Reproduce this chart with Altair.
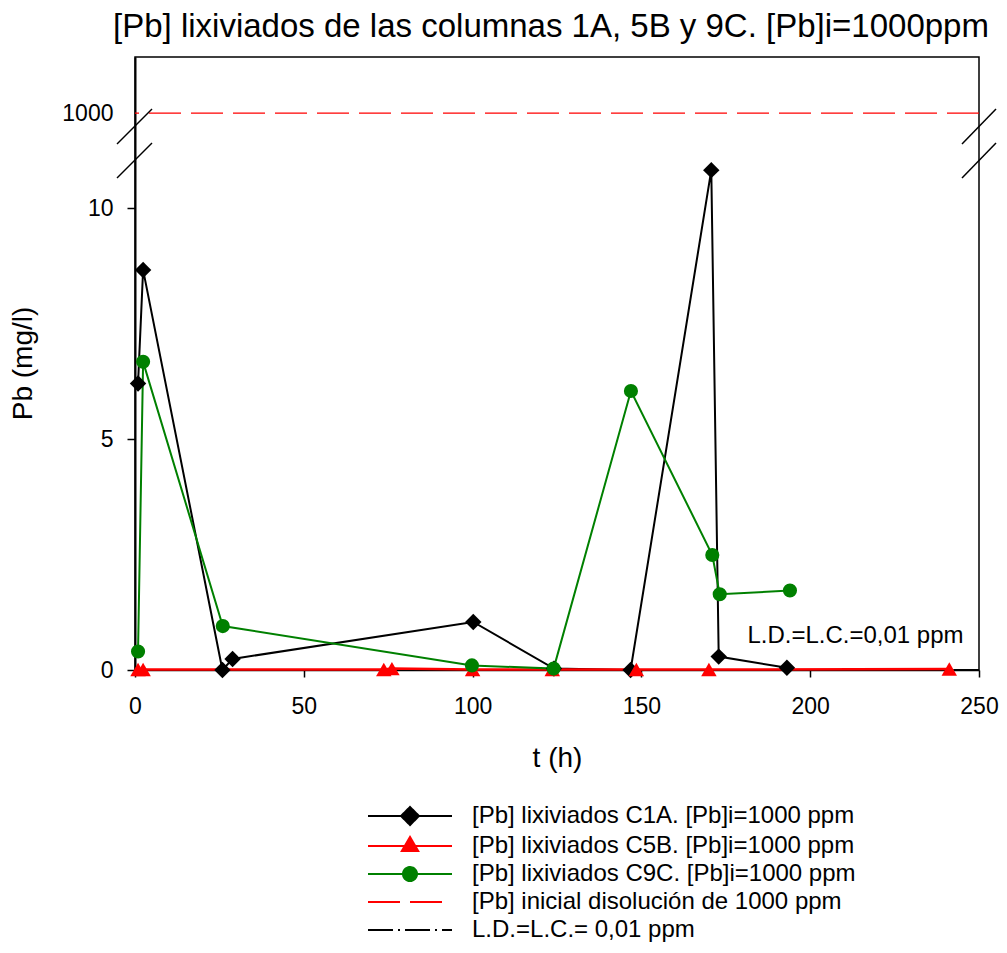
import altair as alt
import pandas as pd

# ---------------- data ----------------
title_text = "[Pb] lixiviados de las columnas 1A, 5B y 9C. [Pb]i=1000ppm"
x_title = "t (h)"
y_title = "Pb (mg/l)"

c1a_t = [0.9, 2.4, 25.9, 28.9, 100.2, 124.1, 146.8, 170.7, 172.9, 193.1]
c1a_v = [6.20, 8.66, 0.00, 0.24, 1.04, 0.03, 0.00, 10.82, 0.29, 0.05]

c5b_t = [0.9, 2.4, 73.7, 76.1, 100.0, 123.6, 148.5, 170.0, 241.2]
c5b_v = [0.01, 0.01, 0.01, 0.03, 0.01, 0.01, 0.01, 0.01, 0.02]

c9c_t = [0.9, 2.4, 26.0, 99.8, 124.0, 146.9, 171.0, 173.2, 194.0]
c9c_v = [0.40, 6.67, 0.95, 0.10, 0.03, 6.04, 2.49, 1.64, 1.72]

series_labels = [
    "[Pb] lixiviados C1A. [Pb]i=1000 ppm",
    "[Pb] lixiviados C5B. [Pb]i=1000 ppm",
    "[Pb] lixiviados C9C. [Pb]i=1000 ppm",
    "[Pb] inicial disolución de 1000 ppm",
    "L.D.=L.C.= 0,01 ppm",
]
series_colors = ["#000000", "#ff0000", "#008000", "#ff0000", "#000000"]

x_ticks = [0, 50, 100, 150, 200, 250]
y_ticks = [0, 5, 10, 1000]
initial_conc = [1000]
ld_lc = [0.01]
annot_text = ["L.D.=L.C.=0,01 ppm"]
annot_x = [181.4]
annot_y = [0.74]

# ---------------- style ----------------
W, H = 844, 613
FONT = "Liberation Sans"
BLACK, RED, GREEN = "#000000", "#ff0000", "#008000"

xscale = alt.Scale(domain=[0, 250], nice=False, zero=False)
# broken axis: piecewise linear scale (lower part 0..11.1, upper part around 1000)
yscale = alt.Scale(domain=[0, 11.1, 999.7, 1001.212],
                   range=[613, 100.2, 69.9, 0], nice=False, zero=False)

xaxis = alt.Axis(values=x_ticks, title=x_title, grid=False,
                 labelFont=FONT, labelFontSize=23, labelColor=BLACK,
                 labelPadding=18, labelFlush=False,
                 tickSize=7, tickWidth=1.5, tickColor=BLACK,
                 domainColor=BLACK, domainWidth=1.5,
                 titleFont=FONT, titleFontSize=28, titleFontWeight="normal",
                 titleColor=BLACK, titleX=422, titleY=96,
                 titleBaseline="alphabetic")
yaxis = alt.Axis(values=y_ticks, format="d", title=y_title, grid=False,
                 labelFont=FONT, labelFontSize=23, labelColor=BLACK,
                 labelPadding=14, labelOverlap=False,
                 tickSize=8, tickWidth=1.5, tickColor=BLACK,
                 tickOpacity={"condition": {"test": "datum.value === 1000", "value": 0}, "value": 1},
                 domainColor=BLACK, domainWidth=2,
                 titleFont=FONT, titleFontSize=28, titleFontWeight="normal",
                 titleColor=BLACK, titleAngle=-90, titleX=-104, titleY=306,
                 titleAlign="center", titleBaseline="alphabetic")


def ex(field):
    return alt.X(field, type="quantitative", scale=xscale, axis=xaxis)


def ey(field):
    return alt.Y(field, type="quantitative", scale=yscale, axis=yaxis)


df1 = pd.DataFrame({"t": c1a_t, "v": c1a_v})
df2 = pd.DataFrame({"t": c5b_t, "v": c5b_v})
df3 = pd.DataFrame({"t": c9c_t, "v": c9c_v})

ld_rule = alt.Chart(pd.DataFrame({"v": ld_lc})).mark_rule(
    color=BLACK, strokeWidth=1, strokeDash=[25, 5, 2, 5]).encode(y=ey("v"))
init_rule = alt.Chart(pd.DataFrame({"v": initial_conc})).mark_rule(
    color=RED, strokeWidth=1.3, strokeDash=[32, 10]).encode(y=ey("v"))

line1 = alt.Chart(df1).mark_line(color=BLACK, strokeWidth=2).encode(x=ex("t"), y=ey("v"))
line2 = alt.Chart(df2).mark_line(color=RED, strokeWidth=2.5).encode(x=ex("t"), y=ey("v"))
line3 = alt.Chart(df3).mark_line(color=GREEN, strokeWidth=2).encode(x=ex("t"), y=ey("v"))

pts1 = alt.Chart(df1).mark_point(shape="diamond", filled=True, size=270, color=BLACK, opacity=1).encode(x=ex("t"), y=ey("v"))
pts2 = alt.Chart(df2).mark_point(shape="triangle-up", filled=True, size=240, color=RED, opacity=1).encode(x=ex("t"), y=ey("v"))
pts3 = alt.Chart(df3).mark_point(shape="circle", filled=True, size=200, color=GREEN, opacity=1).encode(x=ex("t"), y=ey("v"))

annot = alt.Chart(pd.DataFrame({"t": annot_x, "v": annot_y, "s": annot_text})).mark_text(
    align="left", baseline="middle", font=FONT, fontSize=24, color=BLACK
).encode(x=ex("t"), y=ey("v"), text="s:N")

# axis-break slashes (decoration, pixel offsets)
one = pd.DataFrame({"k": [0]})
slashes = []
for x0, x1 in [(-18, 17), (W - 17, W + 17)]:
    for y0, y1 in [(87, 52), (121, 86)]:
        slashes.append(alt.Chart(one).mark_rule(color=BLACK, strokeWidth=1.5).encode(
            x=alt.value(x0), x2=alt.value(x1), y=alt.value(y0), y2=alt.value(y1)))

# legend built from scales (no data drawn)
legend_paths = [
    "M-4.2,0H4.2M0,-0.9L0.9,0L0,0.9L-0.9,0Z",
    "M-4.2,0H4.2M0,-0.9L0.82,0.5L-0.82,0.5Z",
    "M-4.2,0H4.2M0.7,0A0.7,0.7,0,1,1,-0.7,0A0.7,0.7,0,1,1,0.7,0Z",
    "M-4.2,0H4.2",
    "M-4.2,0H4.2",
]
legend_dashes = [[1, 0], [1, 0], [1, 0], [32, 10], [25, 5, 2, 5]]
leg = alt.Legend(title=None, orient="none", legendX=263, legendY=747,
                 labelFont=FONT, labelFontSize=24, labelColor=BLACK,
                 labelOffset=50, labelLimit=1000, rowPadding=4, padding=0,
                 symbolSize=400, symbolStrokeWidth=2, symbolOpacity=1)
legend_layer = alt.Chart(pd.DataFrame({"serie": series_labels})).transform_filter(
    "false").mark_point(strokeWidth=2, opacity=1).encode(
    shape=alt.Shape("serie:N", scale=alt.Scale(domain=series_labels, range=legend_paths), legend=leg),
    fill=alt.Fill("serie:N", scale=alt.Scale(domain=series_labels, range=series_colors), legend=leg),
    stroke=alt.Stroke("serie:N", scale=alt.Scale(domain=series_labels, range=series_colors), legend=leg),
    strokeDash=alt.StrokeDash("serie:N", scale=alt.Scale(domain=series_labels, range=legend_dashes), legend=leg),
)

chart = alt.layer(
    ld_rule, init_rule, line1, line2, line3, pts1, pts2, pts3, annot, *slashes, legend_layer
).properties(
    width=W, height=H,
    padding={"left": 127, "top": 49, "right": 20, "bottom": 275},
    autosize=alt.AutoSizeParams(type="none"),
    background="white",
    title=alt.TitleParams(text=title_text, font=FONT, fontSize=33, fontWeight="normal",
                          color=BLACK, anchor="middle", offset=22, baseline="alphabetic",
                          dx=-6, dy=35),
).configure_view(stroke=BLACK, strokeWidth=1.5)

chart.save("out.html", embed_options={"renderer": "svg", "actions": False})
